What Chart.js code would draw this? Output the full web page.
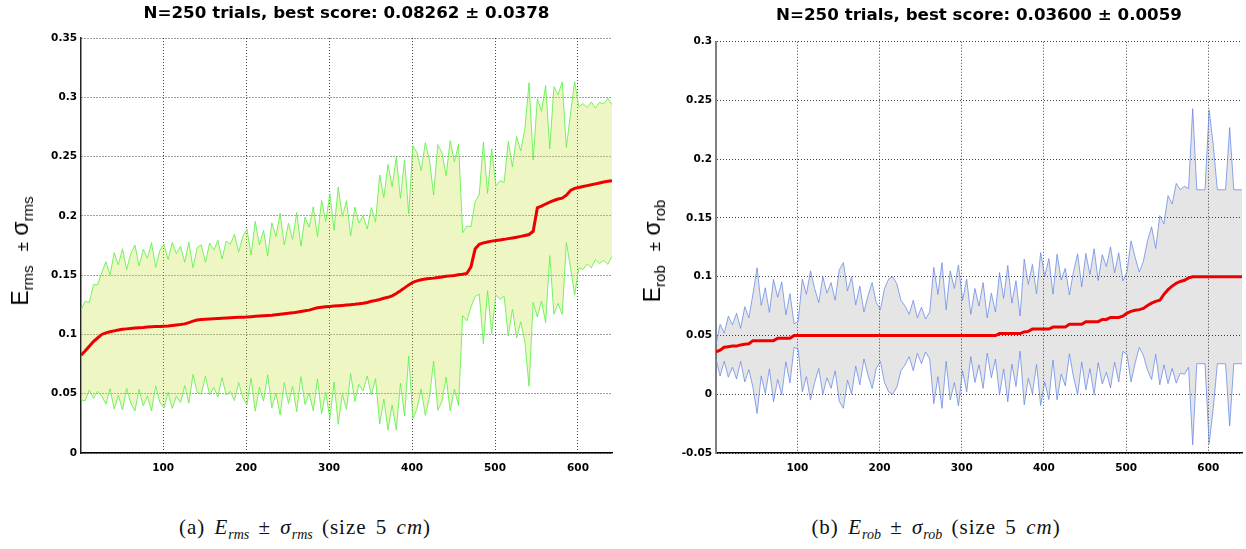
<!DOCTYPE html>
<html>
<head>
<meta charset="utf-8">
<script src="https://cdn.jsdelivr.net/npm/chart.js@4.4.1/dist/chart.umd.min.js"></script>
<style>
  html, body { margin: 0; padding: 0; background: #fff; }
  #wrap { position: relative; width: 1246px; height: 549px; overflow: hidden; }
  #wrap canvas { position: absolute; top: 0; }
  .ylab {
    position: absolute; white-space: nowrap; color: #000;
    font-family: 'Liberation Sans', Arial, sans-serif; font-size: 23px; line-height: 1;
    transform: translate(-50%, -50%) rotate(-90deg);
  }
  .ylab sub { font-size: 15px; vertical-align: -5px; }
  .ylab .pm { font-size: 17px; margin-left: 14px; }
  .cap {
    position: absolute; top: 515px; white-space: nowrap; color: #111;
    font-family: 'Liberation Serif', 'DejaVu Serif', serif; font-size: 21px;
    letter-spacing: 1px; word-spacing: 3px;
    transform: translateX(-50%);
  }
  .cap sub { font-size: 14px; letter-spacing: 0; }
</style>
</head>
<body>
<div id="wrap">
  <canvas id="rmsChart" width="623" height="490" style="left:0"></canvas>
  <canvas id="robChart" width="623" height="490" style="left:623px"></canvas>
  <div class="ylab" style="left:22px;top:251px">E<sub>rms</sub><span class="pm">±</span> σ<sub>rms</sub></div>
  <div class="ylab" style="left:654px;top:251px">E<sub>rob</sub><span class="pm">±</span> σ<sub>rob</sub></div>
  <div class="cap" style="left:305px">(a) <i>E<sub>rms</sub></i> ± <i>σ<sub>rms</sub></i> (size 5 <i>cm</i>)</div>
  <div class="cap" style="left:936px">(b) <i>E<sub>rob</sub></i> ± <i>σ<sub>rob</sub></i> (size 5 <i>cm</i>)</div>
</div>
<script>
// trial index (sorted by score), sampled every 5 trials
const trialIdx = Array.from({ length: 129 }, (_, i) => 1 + 5 * i);
const xTicks = [100, 200, 300, 400, 500, 600];

// (a) E_rms mean and sigma
const rmsMean = [
  0.0826, 0.086, 0.090, 0.094, 0.097, 0.100, 0.1013, 0.1022, 0.1030, 0.1037,
  0.1043, 0.1047, 0.1051, 0.1054, 0.1057, 0.1059, 0.1062, 0.1064, 0.1066, 0.1068,
  0.1070, 0.1072, 0.1076, 0.1080, 0.1084, 0.1089, 0.1100, 0.1112, 0.1122, 0.1126,
  0.1128, 0.1130, 0.1132, 0.1134, 0.1136, 0.1138, 0.1140, 0.1142, 0.1144, 0.1145,
  0.1147, 0.1150, 0.1153, 0.1156, 0.1158, 0.1160, 0.1162, 0.1166, 0.1170, 0.1174,
  0.1178, 0.1182, 0.1188, 0.1194, 0.1200, 0.1205, 0.1216, 0.1225, 0.1230, 0.1233,
  0.1236, 0.1239, 0.1242, 0.1245, 0.1248, 0.1251, 0.1254, 0.1258, 0.1263, 0.1270,
  0.1280, 0.1287, 0.1295, 0.1305, 0.1313, 0.1325, 0.1345, 0.1368, 0.1393, 0.1418,
  0.1440, 0.1452, 0.1461, 0.1467, 0.1471, 0.1475, 0.1480, 0.1485, 0.1490, 0.1494,
  0.1498, 0.1503, 0.1508, 0.1514, 0.1570, 0.1720, 0.1760, 0.1772, 0.1780, 0.1787,
  0.1792, 0.1797, 0.1802, 0.1808, 0.1814, 0.1820, 0.1827, 0.1835, 0.1843, 0.1870,
  0.2068, 0.2082, 0.2100, 0.2115, 0.2130, 0.2142, 0.2150, 0.2175, 0.2215, 0.2232,
  0.2240, 0.2248, 0.2255, 0.2262, 0.2270, 0.2278, 0.2285, 0.2292, 0.2297
];
const rmsSd = [
  0.038, 0.042, 0.037, 0.048, 0.045, 0.052, 0.060, 0.048, 0.066, 0.055,
  0.068, 0.050, 0.063, 0.070, 0.052, 0.066, 0.058, 0.071, 0.050, 0.064,
  0.069, 0.056, 0.070, 0.060, 0.066, 0.052, 0.068, 0.045, 0.061, 0.063,
  0.048, 0.064, 0.058, 0.066, 0.050, 0.065, 0.062, 0.070, 0.055, 0.068,
  0.074, 0.052, 0.080, 0.060, 0.072, 0.050, 0.078, 0.066, 0.085, 0.058,
  0.076, 0.062, 0.084, 0.055, 0.079, 0.070, 0.086, 0.060, 0.090, 0.072,
  0.095, 0.064, 0.100, 0.075, 0.088, 0.058, 0.082, 0.068, 0.074, 0.062,
  0.079, 0.066, 0.105, 0.085, 0.112, 0.092, 0.115, 0.078, 0.108, 0.060,
  0.115, 0.108, 0.092, 0.115, 0.100, 0.070, 0.112, 0.105, 0.085, 0.114,
  0.096, 0.110, 0.035, 0.040, 0.034, 0.040, 0.042, 0.085, 0.041, 0.078,
  0.046, 0.050, 0.048, 0.082, 0.060, 0.085, 0.072, 0.090, 0.128, 0.060,
  0.092, 0.080, 0.100, 0.045, 0.096, 0.088, 0.098, 0.040, 0.065, 0.090,
  0.068, 0.070, 0.066, 0.070, 0.064, 0.068, 0.066, 0.070, 0.064
];
const rmsTicks = [0, 0.05, 0.1, 0.15, 0.2, 0.25, 0.3, 0.35];

// (b) E_rob mean and sigma
const robMean = [
  0.036, 0.0375, 0.040, 0.0405, 0.041, 0.041, 0.042, 0.0425, 0.043, 0.0456,
  0.0456, 0.0456, 0.0456, 0.0456, 0.0456, 0.0476, 0.0476, 0.0476, 0.0476, 0.050,
  0.05, 0.05, 0.05, 0.05, 0.05, 0.05, 0.05, 0.05, 0.05, 0.05,
  0.05, 0.05, 0.05, 0.05, 0.05, 0.05, 0.05, 0.05, 0.05, 0.05,
  0.05, 0.05, 0.05, 0.05, 0.05, 0.05, 0.05, 0.05, 0.05, 0.05,
  0.05, 0.05, 0.05, 0.05, 0.05, 0.05, 0.05, 0.05, 0.05, 0.05,
  0.05, 0.05, 0.05, 0.05, 0.05, 0.05, 0.05, 0.05, 0.05, 0.0516,
  0.0516, 0.0516, 0.0516, 0.0516, 0.0516, 0.053, 0.0535, 0.0555, 0.0555, 0.0555,
  0.0555, 0.0555, 0.0572, 0.0572, 0.0572, 0.0572, 0.0595, 0.0595, 0.0595, 0.0595,
  0.0618, 0.0618, 0.0618, 0.0618, 0.0637, 0.0637, 0.0654, 0.0654, 0.0654, 0.0665,
  0.069, 0.0705, 0.0715, 0.072, 0.073, 0.0755, 0.0775, 0.079, 0.080, 0.085,
  0.089, 0.092, 0.0945, 0.096, 0.097, 0.099, 0.1, 0.1, 0.1, 0.1,
  0.1, 0.1, 0.1, 0.1, 0.1, 0.1, 0.1, 0.1, 0.1
];
const robSd = [
  0.006, 0.022, 0.012, 0.026, 0.018, 0.028, 0.014, 0.032, 0.022, 0.040,
  0.062, 0.030, 0.045, 0.024, 0.052, 0.035, 0.048, 0.020, 0.038, 0.010,
  0.012, 0.048, 0.035, 0.055, 0.040, 0.028, 0.050, 0.036, 0.045, 0.030,
  0.056, 0.062, 0.038, 0.050, 0.026, 0.042, 0.020, 0.034, 0.045, 0.028,
  0.022, 0.040, 0.048, 0.050, 0.044, 0.030, 0.025, 0.018, 0.030, 0.015,
  0.024, 0.014, 0.020, 0.058, 0.035, 0.062, 0.022, 0.055, 0.040, 0.060,
  0.030, 0.048, 0.018, 0.040, 0.025, 0.045, 0.015, 0.036, 0.020, 0.052,
  0.030, 0.058, 0.026, 0.045, 0.015, 0.062, 0.040, 0.055, 0.030, 0.065,
  0.045, 0.060, 0.028, 0.062, 0.040, 0.050, 0.025, 0.045, 0.060, 0.032,
  0.058, 0.040, 0.062, 0.035, 0.055, 0.045, 0.060, 0.038, 0.055, 0.030,
  0.035, 0.060, 0.045, 0.032, 0.040, 0.055, 0.065, 0.045, 0.072, 0.060,
  0.080, 0.070, 0.085, 0.078, 0.080, 0.076, 0.143, 0.074, 0.074, 0.074,
  0.142, 0.112, 0.074, 0.074, 0.074, 0.127, 0.074, 0.074, 0.074
];
const robTicks = [-0.05, 0, 0.05, 0.1, 0.15, 0.2, 0.25, 0.3];

const tickFont = { family: 'DejaVu Sans', size: 10.5, weight: 'bold' };
const gridColor = 'rgba(0,0,0,0.75)';

function makeChart(canvasId, o) {
  const pts = arr => arr.map((v, i) => ({ x: trialIdx[i], y: v }));
  const upper = o.mean.map((m, i) => m + o.sd[i]);
  const lower = o.mean.map((m, i) => m - o.sd[i]);

  return new Chart(document.getElementById(canvasId), {
    type: 'line',
    data: {
      datasets: [
        { data: pts(o.mean), borderColor: '#ee0000', borderWidth: 3, pointRadius: 0, fill: false },
        { data: pts(upper), borderColor: o.line, borderWidth: 1, pointRadius: 0, fill: '+1', backgroundColor: o.band },
        { data: pts(lower), borderColor: o.line, borderWidth: 1, pointRadius: 0, fill: false },
      ],
    },
    options: {
      responsive: false,
      animation: false,
      layout: { padding: { left: 0, right: o.padRight, top: 0, bottom: 0 } },
      elements: { line: { tension: 0 } },
      plugins: {
        legend: { display: false },
        tooltip: { enabled: false },
        filler: { drawTime: 'beforeDatasetsDraw' },
        title: {
          display: true,
          fullSize: false,
          text: o.title,
          color: '#000',
          font: { family: 'DejaVu Sans', size: 16.7, weight: 'bold' },
          padding: o.titlePad,
        },
      },
      scales: {
        x: {
          type: 'linear',
          min: 1,
          max: 641,
          afterBuildTicks: s => { s.ticks = xTicks.map(v => ({ value: v })); },
          afterFit: s => { s.height = 37; },
          ticks: { color: '#000', font: tickFont, padding: 9, maxRotation: 0 },
          grid: { color: gridColor, lineWidth: 1, drawTicks: false },
          border: { display: true, color: '#000', width: 1.5, dash: [1, 2] },
        },
        y: {
          min: o.yTicks[0],
          max: o.yTicks[o.yTicks.length - 1],
          afterBuildTicks: s => { s.ticks = o.yTicks.map(v => ({ value: v })); },
          afterFit: s => { s.width = o.yWidth; },
          ticks: { color: '#000', font: tickFont, padding: 4, callback: v => String(+v.toFixed(2)) },
          grid: { color: gridColor, lineWidth: 1, drawTicks: false },
          border: { display: true, color: o.axisColor, width: o.axisWidth, dash: [1, 2] },
        },
      },
    },
  });
}

makeChart('rmsChart', {
  mean: rmsMean, sd: rmsSd, yTicks: rmsTicks,
  title: 'N=250 trials, best score: 0.08262 \u00b1 0.0378',
  titlePad: { top: 4, bottom: 14 },
  line: 'rgba(95,240,75,0.85)', band: 'rgba(200,230,60,0.3)',
  yWidth: 81, padRight: 11, axisColor: '#222', axisWidth: 1.5,
});

makeChart('robChart', {
  mean: robMean, sd: robSd, yTicks: robTicks,
  title: 'N=250 trials, best score: 0.03600 \u00b1 0.0059',
  titlePad: { top: 6, bottom: 15.7 },
  line: 'rgba(100,135,230,0.75)', band: 'rgba(0,0,0,0.1)',
  yWidth: 93, padRight: 4, axisColor: '#808080', axisWidth: 2,
});
</script>
</body>
</html>
